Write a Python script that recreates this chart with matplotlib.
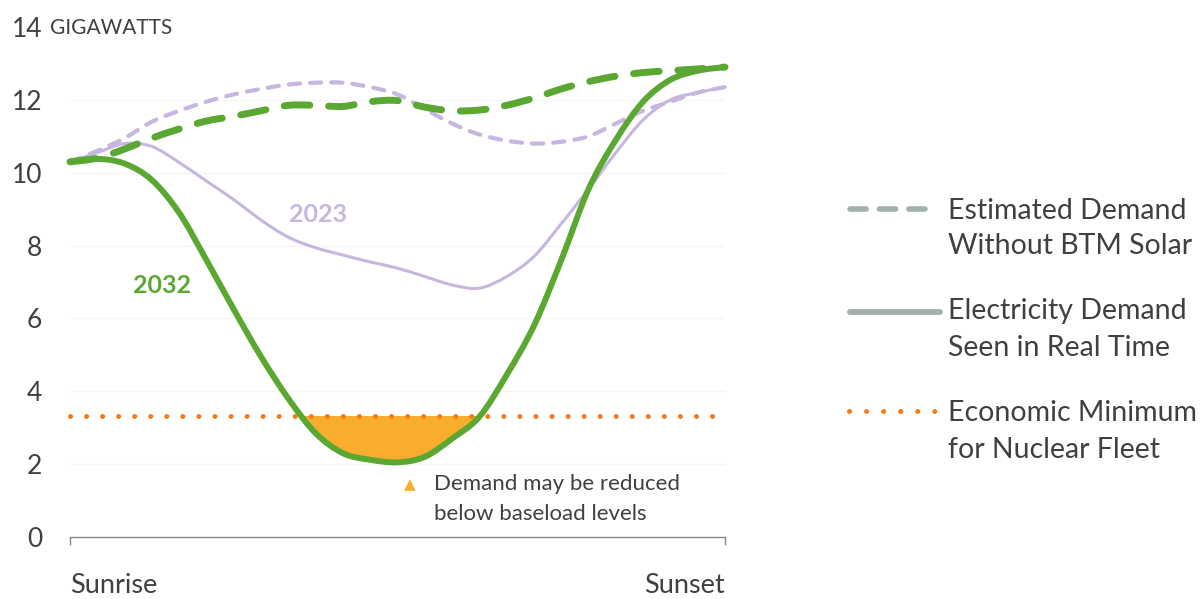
import matplotlib
matplotlib.use("Agg")
import matplotlib.pyplot as plt
from matplotlib.lines import Line2D
from matplotlib.path import Path
from matplotlib.patches import PathPatch, Rectangle
import numpy as np

plt.rcParams['font.family'] = ['Lato', 'DejaVu Sans']

# hours after sunrise (0 = Sunrise, 12 = Sunset)
hours = [0, 0.5, 1, 1.5, 2, 2.5, 3, 3.5, 4, 4.5, 5, 5.5, 6, 6.5, 7, 7.5, 8, 8.5,
         9, 9.5, 10, 10.5, 11, 11.5, 12]

demand_2032_real = [10.3, 10.38, 10.25, 9.8, 8.9, 7.6, 6.25, 4.95, 3.8, 2.85, 2.3, 2.12,
                    2.05, 2.2, 2.7, 3.3, 4.45, 5.8, 7.6, 9.55, 10.9, 11.95, 12.55, 12.8, 12.9]
demand_2032_est = [10.3, 10.4, 10.65, 10.95, 11.2, 11.42, 11.55, 11.7, 11.85, 11.85, 11.82,
                   11.95, 11.98, 11.8, 11.7, 11.72, 11.85, 12.05, 12.3, 12.5, 12.65, 12.75,
                   12.8, 12.85, 12.9]
demand_2023_est = [10.3, 10.6, 10.95, 11.4, 11.7, 11.95, 12.15, 12.3, 12.42, 12.47, 12.47,
                   12.35, 12.15, 11.75, 11.35, 11.05, 10.88, 10.8, 10.85, 11.0, 11.35, 11.7,
                   11.95, 12.2, 12.35]
demand_2023_real = [10.3, 10.55, 10.8, 10.72, 10.28, 9.77, 9.26, 8.7, 8.23, 7.94, 7.74, 7.55,
                    7.38, 7.15, 6.92, 6.83, 7.15, 7.7, 8.6, 9.55, 10.55, 11.45, 12.0, 12.2, 12.35]
nuclear_min = 3.33

y_ticks = [0, 2, 4, 6, 8, 10, 12, 14]
x_labels = ["Sunrise", "Sunset"]

GREEN = '#5aa832'
LAV = '#c7b7e0'
ORANGE = '#f07d19'
FILL = '#f8ad2c'
TXT = '#404040'
LEG = '#9fb0ad'

W, H = 1202, 599
fig = plt.figure(figsize=(W / 100, H / 100), dpi=100)
ax = fig.add_axes([70 / W, 1 - 537 / H, 655 / W, (537 - 27) / H])
ax.set_xlim(0, 12)
ax.set_ylim(0, 14)

for s in ['top', 'right', 'left']:
    ax.spines[s].set_visible(False)
ax.spines['bottom'].set_color('#888888')
ax.spines['bottom'].set_linewidth(1.0)

ax.set_yticks(y_ticks)
ax.set_yticklabels([str(v) for v in y_ticks], fontsize=19, color=TXT)
ax.tick_params(axis='y', length=0, pad=20)
ax.set_xticks([0, 12])
ax.set_xticklabels(x_labels, fontsize=19.5, color=TXT)
ax.tick_params(axis='x', length=6, width=1, color='#888888', pad=20)
xl = ax.get_xticklabels()
xl[0].set_ha('left')
xl[1].set_ha('right')

for v in y_ticks[1:-1]:
    ax.axhline(v, color='#f5f5f5', lw=1.0, zorder=0)


def smooth_path(xs, ys):
    """Catmull-Rom curve through the data points, expressed as cubic Bezier path."""
    p = np.column_stack([xs, ys]).astype(float)
    n = len(p)
    ext = np.vstack([p[0], p, p[-1]])
    verts = [p[0]]
    codes = [Path.MOVETO]
    for i in range(n - 1):
        p0, p1, p2, p3 = ext[i], ext[i + 1], ext[i + 2], ext[i + 3]
        c1 = p1 + (p2 - p0) / 6.0
        c2 = p2 - (p3 - p1) / 6.0
        verts += [c1, c2, p2]
        codes += [Path.CURVE4] * 3
    return verts, codes


def draw_curve(xs, ys, color, lw, dashes=None, z=2):
    v, c = smooth_path(xs, ys)
    ls = '-' if dashes is None else (0, dashes)
    patch = PathPatch(Path(v, c), facecolor='none', edgecolor=color, lw=lw,
                      linestyle=ls, capstyle='round', joinstyle='round',
                      zorder=z, clip_on=False)
    ax.add_patch(patch)


# shaded area: below nuclear minimum, above 2032 curve
v, c = smooth_path(hours, demand_2032_real)
clipv = list(v) + [(hours[-1], 14), (hours[0], 14), (hours[0], 14)]
clipc = list(c) + [Path.LINETO, Path.LINETO, Path.CLOSEPOLY]
clip_patch = PathPatch(Path(clipv, clipc), transform=ax.transData, facecolor='none',
                       edgecolor='none')
ax.add_patch(clip_patch)
rect = Rectangle((hours[0], 0), hours[-1] - hours[0], nuclear_min, facecolor=FILL,
                 edgecolor='none', zorder=1)
ax.add_patch(rect)
rect.set_clip_path(clip_patch)

draw_curve(hours, demand_2023_est, LAV, 3.0, dashes=(2.7, 2.4), z=2)
draw_curve(hours, demand_2023_real, LAV, 2.2, z=2)
draw_curve(hours, demand_2032_est, GREEN, 5.0, dashes=(3.7, 2.7), z=3)
draw_curve(hours, demand_2032_real, GREEN, 4.3, z=4)
ax.plot([hours[0], hours[-1]], [nuclear_min, nuclear_min], color=ORANGE, lw=3.6,
        dashes=(0.01, 3.2), dash_capstyle='round', zorder=5, clip_on=False)

ax.text(4.55, 8.85, "2023", color=LAV, fontsize=18, fontweight='bold', ha='center', va='center')
ax.text(1.68, 6.9, "2032", color=GREEN, fontsize=18, fontweight='bold', ha='center', va='center')

# annotation
fig.text(410 / W, 1 - 485 / H, "\u25B2", color=FILL, fontsize=11, ha='center', va='center',
         family=['DejaVu Sans'])
fig.text(434 / W, 1 - 484 / H, "Demand may be reduced", color=TXT, fontsize=16,
         ha='left', va='center')
fig.text(434 / W, 1 - 514 / H, "below baseload levels", color=TXT, fontsize=16,
         ha='left', va='center')

# unit label
fig.text(50 / W, 1 - 28 / H, "GIGAWATTS", color=TXT, fontsize=15, ha='left', va='center')


def fy(p):
    return 1 - p / H


fig.add_artist(Line2D([850 / W, 930 / W], [fy(209), fy(209)], color=LEG, lw=4.0,
                      dashes=(2.9, 2.4), dash_capstyle='round', transform=fig.transFigure))
fig.add_artist(Line2D([850 / W, 940 / W], [fy(312), fy(312)], color=LEG, lw=4.2,
                      solid_capstyle='round', transform=fig.transFigure))
fig.add_artist(Line2D([849 / W, 935 / W], [fy(411), fy(411)], color=ORANGE, lw=3.6,
                      dashes=(0.01, 3.4), dash_capstyle='round', transform=fig.transFigure))

leg_texts = [("Estimated Demand", 211), ("Without BTM Solar", 246),
             ("Electricity Demand", 311), ("Seen in Real Time", 348),
             ("Economic Minimum", 413), ("for Nuclear Fleet", 450)]
for t, py in leg_texts:
    fig.text(948 / W, fy(py), t, color=TXT, fontsize=20.5, ha='left', va='center')

fig.savefig("out.png", dpi=100, facecolor='white')
